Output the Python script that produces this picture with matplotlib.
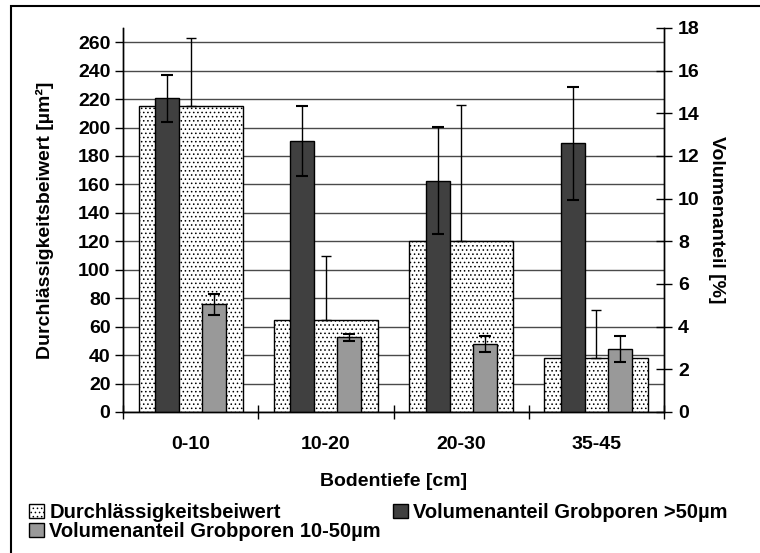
import matplotlib
matplotlib.use("Agg")
import matplotlib.pyplot as plt
from matplotlib.patches import Rectangle, Patch
import numpy as np

plt.rcParams['font.family'] = ['Liberation Sans', 'DejaVu Sans']
plt.rcParams['font.weight'] = 'bold'
plt.rcParams['hatch.linewidth'] = 0.6
plt.rcParams['hatch.color'] = '#808080'

# data
depths = ['0-10', '10-20', '20-30', '35-45']
kf = [215, 65, 120, 38]              # Durchlaessigkeitsbeiwert [um2]
kf_err = [48, 45, 96, 34]
vol_gt50 = [14.7, 12.7, 10.85, 12.6]  # Volumenanteil Grobporen >50um [%]
vol_gt50_err = [1.1, 1.65, 2.5, 2.65]
vol_10_50 = [5.05, 3.5, 3.2, 2.95]    # Volumenanteil Grobporen 10-50um [%]
vol_10_50_err = [0.5, 0.17, 0.38, 0.62]

fs = 14
fig = plt.figure(figsize=(7.6, 5.53), dpi=100)
ax = fig.add_axes([123/760, 1-412/553, (664-123)/760, (412-28)/553])
ax2 = ax.twinx()

x = np.arange(len(depths))
ax.set_axisbelow(True)
ax.bar(x, kf, width=0.77, color='white', edgecolor='black', linewidth=1,
       hatch='....', zorder=2)
ax.errorbar(x, kf, yerr=[np.zeros(len(kf)), kf_err], fmt='none', ecolor='black',
            elinewidth=1, capsize=3.5, capthick=1, zorder=3)

ax2.bar(x - 0.174, vol_gt50, width=0.178, color='#404040', edgecolor='black', linewidth=1)
ax2.errorbar(x - 0.174, vol_gt50, yerr=vol_gt50_err, fmt='none', ecolor='black',
             elinewidth=1, capsize=4, capthick=1.5)
ax2.bar(x + 0.174, vol_10_50, width=0.178, color='#999999', edgecolor='black', linewidth=1)
ax2.errorbar(x + 0.174, vol_10_50, yerr=vol_10_50_err, fmt='none', ecolor='black',
             elinewidth=1, capsize=4, capthick=1.5)

ax.set_xlim(-0.5, 3.5)
ax.set_ylim(0, 270)
ax2.set_ylim(0, 18)
ax.set_yticks(np.arange(0, 261, 20))
ax2.set_yticks(np.arange(0, 19, 2))
ax.yaxis.grid(True, color='#4a4a4a', linewidth=1)

ax.set_xticks(np.arange(-0.5, 3.6, 1))
ax.set_xticklabels([])
ax.set_xticks(x, minor=True)
ax.set_xticklabels(depths, minor=True, fontsize=fs, fontweight='bold')
ax.tick_params(axis='x', which='major', direction='inout', length=10, width=1)
ax.tick_params(axis='x', which='minor', length=0, pad=17)
ax.tick_params(axis='y', direction='out', length=6, width=1, labelsize=fs, pad=3)
ax2.tick_params(axis='y', direction='inout', length=12, width=1, labelsize=fs, pad=4)

for a in (ax, ax2):
    a.spines['top'].set_visible(False)
    for s in a.spines.values():
        s.set_linewidth(1)

ax.set_ylabel('Durchlässigkeitsbeiwert [µm²]', fontsize=fs, fontweight='bold', labelpad=17)
ax2.set_ylabel('Volumenanteil [%]', fontsize=fs, fontweight='bold', rotation=270, labelpad=18)
ax.set_xlabel('Bodentiefe [cm]', fontsize=fs, fontweight='bold', labelpad=15)

handles = [Patch(facecolor='white', edgecolor='black', hatch='....', linewidth=1),
           Patch(facecolor='#999999', edgecolor='black', linewidth=1),
           Patch(facecolor='#404040', edgecolor='black', linewidth=1)]
labels = ['Durchlässigkeitsbeiwert', 'Volumenanteil Grobporen 10-50µm',
          'Volumenanteil Grobporen >50µm']
fig.legend(handles, labels, ncol=2, loc='upper left', bbox_to_anchor=(19/760, 1-493/553),
           frameon=False, fontsize=14.5, handlelength=0.75, handleheight=0.75,
           handletextpad=0.25, labelspacing=0.0, columnspacing=0.62, borderpad=0)

fig.add_artist(Rectangle((11/760, -0.1), 1.2, 1.1 - 6/553, transform=fig.transFigure,
                         fill=False, edgecolor='black', linewidth=1.5))

fig.savefig('out.png', dpi=100)
